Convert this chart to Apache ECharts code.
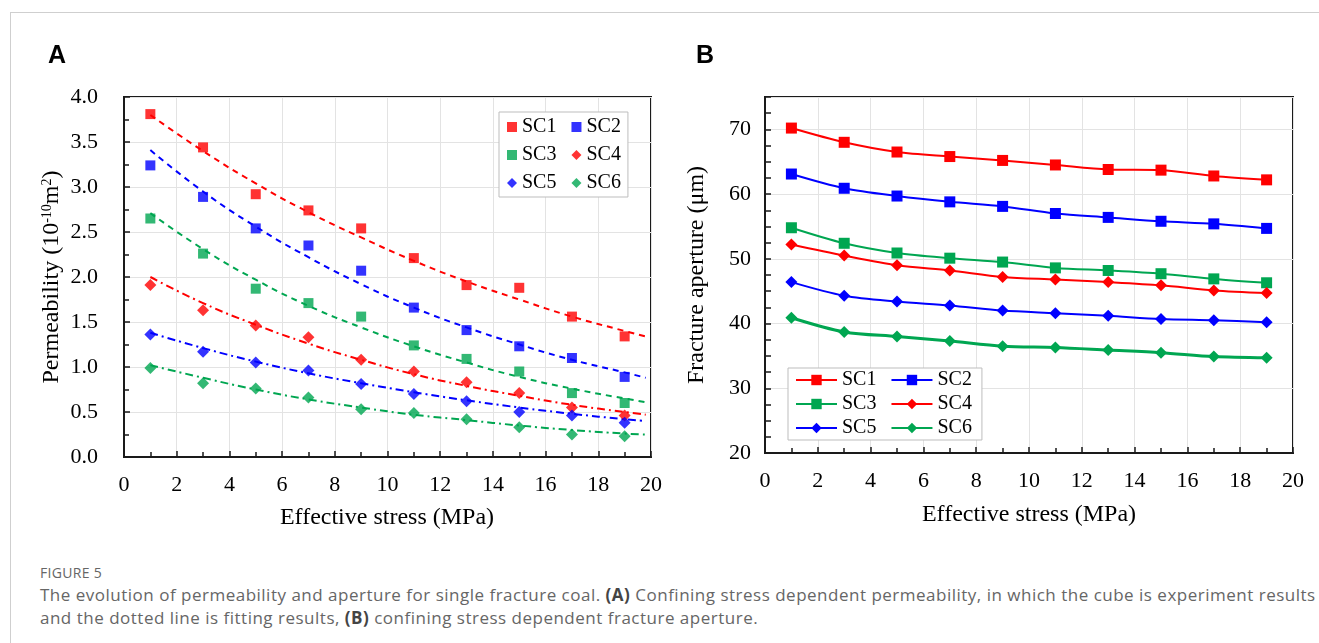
<!DOCTYPE html>
<html>

	<head>
		<meta charset="UTF-8">
		<title>Figure 5</title>
		<script src="https://cdn.jsdelivr.net/npm/echarts@6/dist/echarts.min.js"></script>
		<style type="text/css">
			html, body {
				margin: 0;
				padding: 0;
				width: 1319px;
				height: 643px;
				overflow: hidden;
				background: #fff;
			}
			#frame {
				position: absolute;
				left: 10px;
				top: 12px;
				width: 1400px;
				height: 700px;
				border-top: 1px solid #cfcfcf;
				border-left: 1px solid #cfcfcf;
			}
			#main {
				position: absolute;
				left: 0;
				top: 0;
				width: 1319px;
				height: 545px;
			}
			.cap-label {
				position: absolute;
				left: 40px;
				top: 563px;
				font-family: "Open Sans", "Noto Sans", sans-serif;
				font-size: 14px;
				letter-spacing: 0.3px;
				color: #666;
			}
			.cap {
				position: absolute;
				left: 40px;
				top: 583px;
				white-space: nowrap;
				font-family: "Open Sans", "Noto Sans", sans-serif;
				font-size: 17px;
				letter-spacing: 0.5px;
				line-height: 23px;
				color: #666;
			}
			.cap b {
				color: #444;
			}
		</style>
	</head>

	<body>
		<div id="frame"></div>
		<div id="main"></div>
		<div class="cap-label">FIGURE 5</div>
		<div class="cap">The evolution of permeability and aperture for single fracture coal. <b>(A)</b> Confining stress dependent permeability, in which the cube is experiment results<br>and the dotted line is fitting results, <b>(B)</b> confining stress dependent fracture aperture.</div>

		<script type="text/javascript">
			// 有效应力 (MPa)
			var stress = [1, 3, 5, 7, 9, 11, 13, 15, 17, 19];
			// A: 渗透率 实验点
			var permSC1 = [3.81, 3.44, 2.92, 2.74, 2.54, 2.21, 1.91, 1.88, 1.56, 1.34];
			var permSC2 = [3.24, 2.89, 2.54, 2.35, 2.07, 1.66, 1.41, 1.23, 1.10, 0.89];
			var permSC3 = [2.65, 2.26, 1.87, 1.71, 1.56, 1.24, 1.09, 0.95, 0.71, 0.60];
			var permSC4 = [1.91, 1.63, 1.46, 1.33, 1.08, 0.95, 0.83, 0.71, 0.55, 0.46];
			var permSC5 = [1.36, 1.17, 1.05, 0.96, 0.81, 0.70, 0.62, 0.50, 0.46, 0.38];
			var permSC6 = [0.99, 0.82, 0.76, 0.66, 0.53, 0.49, 0.42, 0.33, 0.25, 0.23];
			// A: 拟合曲线
			var fitX = [1, 3, 5, 7, 9, 11, 13, 15, 17, 19, 19.8];
			var fitSC1 = [3.80, 3.40, 3.04, 2.72, 2.44, 2.18, 1.95, 1.75, 1.56, 1.40, 1.34];
			var fitSC2 = [3.41, 2.95, 2.56, 2.22, 1.92, 1.66, 1.44, 1.25, 1.08, 0.94, 0.88];
			var fitSC3 = [2.71, 2.31, 1.97, 1.68, 1.44, 1.23, 1.05, 0.89, 0.76, 0.65, 0.61];
			var fitSC4 = [2.00, 1.71, 1.47, 1.26, 1.08, 0.92, 0.79, 0.68, 0.58, 0.50, 0.47];
			var fitSC5 = [1.38, 1.21, 1.06, 0.93, 0.82, 0.72, 0.63, 0.55, 0.48, 0.42, 0.40];
			var fitSC6 = [1.02, 0.88, 0.75, 0.64, 0.55, 0.47, 0.41, 0.35, 0.30, 0.26, 0.25];
			// B: 裂隙开度 (μm)
			var aperSC1 = [70.2, 68.0, 66.5, 65.8, 65.2, 64.5, 63.8, 63.7, 62.8, 62.2];
			var aperSC2 = [63.1, 60.9, 59.7, 58.8, 58.1, 57.0, 56.4, 55.8, 55.4, 54.7];
			var aperSC3 = [54.8, 52.4, 50.9, 50.1, 49.5, 48.6, 48.2, 47.7, 46.9, 46.3];
			var aperSC4 = [52.2, 50.5, 49.0, 48.2, 47.2, 46.8, 46.4, 45.9, 45.1, 44.7];
			var aperSC5 = [46.4, 44.3, 43.4, 42.8, 42.0, 41.6, 41.2, 40.7, 40.5, 40.2];
			var aperSC6 = [40.9, 38.7, 38.0, 37.3, 36.5, 36.3, 35.9, 35.5, 34.9, 34.7];

			var names = ['SC1', 'SC2', 'SC3', 'SC4', 'SC5', 'SC6'];
			var colors = ['#ff0000', '#0000ff', '#00a651', '#ff0000', '#0000ff', '#00a651'];
			var symbols = ['rect', 'rect', 'rect', 'diamond', 'diamond', 'diamond'];
			var perm = [permSC1, permSC2, permSC3, permSC4, permSC5, permSC6];
			var fits = [fitSC1, fitSC2, fitSC3, fitSC4, fitSC5, fitSC6];
			var aper = [aperSC1, aperSC2, aperSC3, aperSC4, aperSC5, aperSC6];

			var serif = '"Liberation Serif", "Times New Roman", serif';

			function pairs(xs, ys) {
				var out = [];
				for(var i = 0; i < ys.length; i++) {
					out.push([xs[i], ys[i]]);
				}
				return out;
			}

			function valueAxis(grid, min, max, interval, opt) {
				var ax = {
					type: 'value',
					gridIndex: grid,
					min: min,
					max: max,
					interval: interval,
					axisLine: {
						show: true,
						lineStyle: {
							color: '#1a1a1a',
							width: 2
						}
					},
					axisTick: {
						show: true,
						inside: true,
						length: 6,
						lineStyle: {
							color: '#1a1a1a',
							width: 1.5
						}
					},
					minorTick: {
						show: false
					},
					splitLine: {
						show: true,
						lineStyle: {
							color: '#e3e3e3',
							width: 1
						}
					},
					axisLabel: {
						color: '#000',
						fontFamily: serif,
						fontSize: 22,
						margin: 17
					}
				};
				for(var k in opt) {
					ax[k] = opt[k];
				}
				return ax;
			}

			var minorOn = {
				show: true,
				splitNumber: 2,
				length: 5,
				lineStyle: {
					color: '#1a1a1a',
					width: 1.5
				}
			};

			var series = [];
			// A: 拟合线
			for(var i = 0; i < 6; i++) {
				series.push({
					name: names[i] + ' fit',
					type: 'line',
					xAxisIndex: 0,
					yAxisIndex: 0,
					data: pairs(fitX, fits[i]),
					smooth: true,
					showSymbol: false,
					silent: true,
					lineStyle: {
						color: colors[i],
						width: 2,
						type: i < 3 ? [6, 5] : [8, 4, 2, 4]
					},
					z: 2
				});
			}
			// A: 实验点
			for(var i = 0; i < 6; i++) {
				series.push({
					name: names[i],
					type: 'scatter',
					xAxisIndex: 0,
					yAxisIndex: 0,
					data: pairs(stress, perm[i]),
					symbol: symbols[i],
					symbolSize: i < 3 ? 10 : 12,
					itemStyle: {
						color: colors[i]
					},
					z: 3
				});
			}
			// B: 开度曲线
			for(var i = 0; i < 6; i++) {
				series.push({
					name: 'B-' + names[i],
					type: 'line',
					xAxisIndex: 1,
					yAxisIndex: 1,
					data: pairs(stress, aper[i]),
					smooth: 0.3,
					symbol: symbols[i],
					symbolSize: i < 3 ? 11 : 12,
					itemStyle: {
						color: colors[i]
					},
					lineStyle: {
						color: colors[i],
						width: i == 5 ? 3 : 2
					},
					z: 3
				});
			}

			var myChart = echarts.init(document.getElementById('main'));
			var option = {
				animation: false,
				grid: [{
					left: 124,
					top: 97,
					width: 527,
					height: 360,
					show: true,
					borderColor: '#1a1a1a',
					borderWidth: 2,
					outerBoundsMode: 'none'
				}, {
					left: 765,
					top: 97,
					width: 528,
					height: 356,
					show: true,
					borderColor: '#1a1a1a',
					borderWidth: 2,
					outerBoundsMode: 'none'
				}],
				xAxis: [
					valueAxis(0, 0, 20, 2, {
						minorTick: minorOn
					}),
					valueAxis(1, 0, 20, 2, {
						minorTick: minorOn
					})
				],
				yAxis: [
					valueAxis(0, 0, 4, 0.5, {
						position: 'left',
						minorTick: minorOn,
						axisLabel: {
							color: '#000',
							fontFamily: serif,
							fontSize: 22,
							margin: 26,
							formatter: function(v) {
								return v.toFixed(1);
							}
						}
					}),
					valueAxis(1, 20, 75, 10, {
						position: 'left',
						axisTick: {
							show: false
						},
						axisLabel: {
							color: '#000',
							fontFamily: serif,
							fontSize: 22,
							margin: 14,
							showMaxLabel: false,
							formatter: function(v) {
								return v % 10 === 0 ? String(v) : '';
							}
						}
					}),
					// 只画刻度 (每2.5)
					valueAxis(1, 20, 75, 2.5, {
						position: 'left',
						axisLine: {
							show: false
						},
						splitLine: {
							show: false
						},
						axisLabel: {
							show: false
						}
					})
				],
				legend: [{
					data: names,
					left: 499,
					top: 112,
					width: 130,
					orient: 'horizontal',
					itemWidth: 10,
					itemHeight: 10,
					itemGap: 8,
					padding: [5, 0, 4, 8],
					borderColor: '#bdbdbd',
					borderWidth: 1,
					backgroundColor: '#fff',
					selectedMode: false,
					textStyle: {
						color: '#000',
						fontFamily: serif,
						fontSize: 20,
						lineHeight: 20,
						padding: [0, 7, 0, 0]
					}
				}, {
					data: names.map(function(n) {
						return 'B-' + n;
					}),
					left: 788,
					top: 368,
					width: 200,
					orient: 'horizontal',
					itemWidth: 41,
					itemHeight: 13,
					itemGap: 4,
					padding: [2, 0, 2, 7],
					borderColor: '#bdbdbd',
					borderWidth: 1,
					backgroundColor: '#fff',
					selectedMode: false,
					formatter: function(n) {
						return n.replace(/^B-/, '');
					},
					textStyle: {
						color: '#000',
						fontFamily: serif,
						fontSize: 20,
						lineHeight: 20,
						padding: [0, 10, 0, 0]
					}
				}],
				graphic: [{
					type: 'text',
					x: 48,
					y: 44,
					style: {
						text: 'A',
						font: 'bold 25px "Liberation Sans", Arial, sans-serif',
						fill: '#000'
					}
				}, {
					type: 'text',
					x: 696,
					y: 44,
					style: {
						text: 'B',
						font: 'bold 25px "Liberation Sans", Arial, sans-serif',
						fill: '#000'
					}
				}, {
					type: 'text',
					x: 387,
					y: 518,
					style: {
						text: 'Effective stress (MPa)',
						font: '24px ' + serif,
						fill: '#000',
						align: 'center',
						verticalAlign: 'middle'
					}
				}, {
					type: 'text',
					x: 1029,
					y: 515,
					style: {
						text: 'Effective stress (MPa)',
						font: '24px ' + serif,
						fill: '#000',
						align: 'center',
						verticalAlign: 'middle'
					}
				}, {
					type: 'text',
					x: 52,
					y: 277,
					rotation: Math.PI / 2,
					style: {
						text: 'Permeability (10{sup|-10}m{sup|2})',
						font: '24px ' + serif,
						fill: '#000',
						align: 'center',
						verticalAlign: 'middle',
						rich: {
							sup: {
								fontFamily: serif,
								fontSize: 14,
								verticalAlign: 'top',
								fill: '#000'
							}
						}
					}
				}, {
					type: 'text',
					x: 697,
					y: 275,
					rotation: Math.PI / 2,
					style: {
						text: 'Fracture aperture (\u03bcm)',
						font: '24px ' + serif,
						fill: '#000',
						align: 'center',
						verticalAlign: 'middle'
					}
				}],
				series: series
			};
			myChart.setOption(option);
		</script>

	</body>

</html>
